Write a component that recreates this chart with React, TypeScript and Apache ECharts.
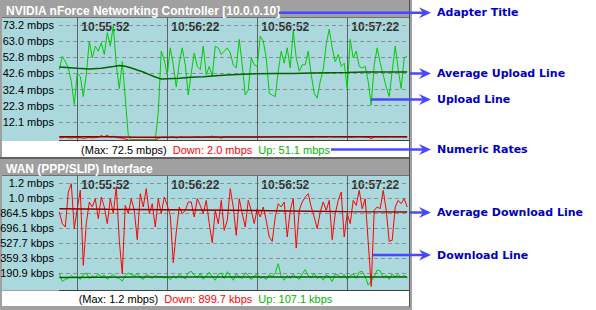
import React, { useEffect, useRef } from "react";
import * as echarts from "echarts";

// ---------- data ----------
const SAMPLE_START = -6; // seconds relative to 10:55:52, one sample per second
const TIME_TICKS = [0, 30, 60, 90];
const TIME_LABELS = ["10:55:52", "10:56:22", "10:56:52", "10:57:22"];

const TOP_TITLE = "NVIDIA nForce Networking Controller [10.0.0.10]";
const BOT_TITLE = "WAN (PPP/SLIP) Interface";

const TOP_TICKS = [12.1, 22.3, 32.4, 42.6, 52.8, 63.0, 73.2]; // mbps
const BOT_TICKS = [190.9, 359.3, 527.7, 696.1, 864.5, 1032.9, 1201.3]; // kbps

const TOP_STATS = ["72.5 mbps", "2.0 mbps", "51.1 mbps"];
const BOT_STATS = ["1.2 mbps", "899.7 kbps", "107.1 kbps"];

// upload (mbps), NVIDIA adapter
const topUpload = [
  45, 53.4, 50, 46, 37.5, 23,
  42.8, 40.7, 28, 41.8, 63, 52.4, 59.8, 56.6, 61.9, 54.5,
  68.3, 59.8, 72.5, 48, 33, 50, 27, 3.6, 0.8, 0.8,
  0.8, 0.8, 0.8, 0.8, 0.8, 0.8, 0.8, 18, 56.6, 51,
  41.8, 58.7, 48, 34, 49, 58.7, 48, 29, 42.8, 55.5,
  47, 45, 59.8, 41.8, 47, 40.7, 59.8, 58.7, 54.5, 56.6,
  58.7, 55.5, 48, 46, 64, 48, 29, 32, 52.4, 48,
  47, 66, 63, 52.4, 30, 29, 28, 44, 56.6, 49,
  58.7, 46, 69.3, 52.4, 44, 48, 48, 56.6, 41.8, 30,
  27, 37.5, 45, 61, 70.4, 58.7, 50, 54.5, 47, 49,
  33, 64, 52.4, 56.6, 47, 46, 47, 37.5, 22.7, 48,
  58.7, 49, 41.8, 34, 28, 44, 59.8, 45, 33, 52.4, 53.4,
];
// download (mbps), NVIDIA adapter
const topDownload = [
  2.1, 2.0, 2.6, 2.0, 1.9, 2.2,
  2.0, 2.1, 1.6, 2.0, 2.2, 2.0, 2.1, 2.4, 3.4, 2.6,
  3.6, 2.4, 3.0, 2.2, 2.0, 1.8, 1.2, 0.6, 0.5, 0.6,
  0.5, 0.6, 0.5, 0.6, 0.5, 0.6, 0.5, 1.8, 2.3, 2.5,
  2.2, 2.4, 2.6, 1.9, 2.4, 2.5, 2.3, 2.4, 2.2, 2.5,
  2.6, 2.4, 2.3, 2.6, 2.4, 3.1, 2.5, 2.4, 1.8, 2.6,
  2.5, 2.6, 2.7, 2.5, 2.6, 2.5, 2.6, 2.5, 2.4, 2.6,
  2.5, 2.6, 2.6, 2.5, 2.7, 2.6, 2.8, 2.6, 2.5, 2.6,
  2.6, 2.5, 2.7, 2.6, 2.6, 2.7, 2.5, 2.6, 2.4, 2.6,
  2.7, 2.6, 2.5, 2.6, 2.8, 2.6, 2.5, 2.7, 2.6, 2.5,
  2.6, 2.4, 2.5, 2.6, 2.7, 2.6, 2.5, 2.4, 1.5, 2.6,
  2.5, 2.6, 2.6, 2.5, 2.7, 2.6, 2.5, 2.6, 2.7, 2.5, 2.6,
];
// average upload (mbps): [second, value]
const topUploadAvgT = [-6, 0, 4, 8, 12, 14, 16, 18, 20, 22, 24, 26, 28, 30, 34, 38, 42, 46, 50, 55, 60, 66, 72, 78, 84, 90, 96, 102, 110];
const topUploadAvgV = [46.6, 45.8, 45.4, 45.8, 46.9, 47.5, 47.1, 46, 44.7, 43.5, 41.8, 40.3, 39, 39.2, 39.6, 40.1, 40.5, 41.1, 41.6, 42, 42.4, 42.6, 42.6, 42.8, 43, 43.2, 43.5, 43.5, 43.5];
// average download (mbps)
const topDownloadAvgT = [-6, 10, 20, 30, 50, 80, 110];
const topDownloadAvgV = [2.7, 2.7, 2.4, 2.3, 2.5, 2.6, 2.6];

// download (kbps), WAN interface
const botDownload = [
  876, 745, 707, 1100, 1194, 689,
  913, 1119, 277, 745, 988, 932, 1025, 801, 1044, 932,
  745, 1025, 857, 1156, 558, 183, 950, 857, 1025, 894,
  565, 1081, 932, 1138, 857, 969, 707, 1025, 857, 1044,
  950, 838, 307, 650, 932, 857, 894, 988, 988, 820,
  1025, 950, 857, 1006, 745, 531, 894, 745, 1006, 670,
  782, 1138, 932, 614, 1025, 857, 707, 1006, 894, 745,
  913, 820, 932, 782, 595, 546, 820, 969, 932, 988,
  595, 894, 1025, 471, 894, 988, 1044, 1081, 932, 820,
  689, 876, 988, 894, 1006, 565, 857, 1006, 1100, 595,
  857, 745, 1006, 950, 1119, 913, 1025, 539, 41, 894,
  932, 913, 1119, 894, 546, 558, 932, 1006, 969, 1025, 932,
];
// upload (kbps), WAN interface
const botUpload = [
  190, 95, 120, 130, 165, 140,
  150, 120, 175, 190, 130, 160, 140, 180, 150, 165,
  120, 150, 175, 140, 130, 100, 160, 190, 175, 160,
  185, 140, 120, 170, 155, 130, 165, 140, 150, 135,
  150, 115, 160, 130, 175, 150, 125, 195, 210, 165,
  140, 185, 120, 160, 200, 145, 110, 175, 190, 130,
  205, 160, 110, 180, 150, 130, 195, 165, 115, 160,
  175, 130, 145, 120, 170, 150, 190, 295, 150, 110,
  165, 130, 175, 145, 120, 180, 230, 160, 140, 190,
  130, 155, 110, 170, 150, 95, 180, 165, 135, 175,
  120, 160, 180, 130, 200, 210, 150, 55, 100, 150,
  225, 215, 140, 165, 120, 180, 150, 175, 140, 165, 130,
];
const botDownloadAvgT = [-6, 10, 30, 50, 70, 90, 110];
const botDownloadAvgV = [913, 906, 902, 896, 887, 880, 876];
const botUploadAvgT = [-6, 20, 50, 80, 110];
const botUploadAvgV = [140, 145, 146, 147, 147];

const ANNOTATIONS = [
  "Adapter Title",
  "Average Upload Line",
  "Upload Line",
  "Numeric Rates",
  "Average Download Line",
  "Download Line",
];

// ---------- layout / style ----------
const ANN_Y = [12.7, 73.5, 99.5, 149.5, 212.5, 255];
const ANN_FROM = [279, 410, 371, 331, 410, 373];
const CYAN = "#aad8dc";
const FONT = '"Liberation Sans", Arial, sans-serif';
const X_MIN = -6.1;
const X_MAX = 110.6;

const perSecond = (arr: number[]) => arr.map((v, i) => [i + SAMPLE_START, v]);
const zip = (t: number[], v: number[]) => t.map((x, i) => [x, v[i]]);

function lineSeries(name: string, grid: number, data: number[][], color: string, width: number, extra: any = {}) {
  return {
    name,
    type: "line",
    xAxisIndex: grid,
    yAxisIndex: grid,
    data,
    symbol: "none",
    showSymbol: false,
    silent: true,
    clip: true,
    lineStyle: { color, width },
    itemStyle: { color },
    emphasis: { disabled: true },
    ...extra,
  };
}

function gridLines(ticks: number[]) {
  return {
    silent: true,
    z: 1,
    symbol: ["none", "none"],
    label: { show: false },
    emphasis: { disabled: true },
    lineStyle: { color: "#8c9090", type: [4, 3], width: 1 },
    data: [
      ...ticks.map((v) => ({ yAxis: v })),
      ...TIME_TICKS.map((t) => ({ xAxis: t, lineStyle: { color: "#5c6464", type: "solid", width: 1 } })),
    ],
  };
}

function xAxisFor(i: number) {
  return {
    gridIndex: i,
    type: "value",
    min: X_MIN,
    max: X_MAX,
    position: "top",
    axisLine: { show: false },
    axisTick: { show: false },
    splitLine: { show: false },
    axisLabel: {
      show: true,
      inside: true,
      customValues: TIME_TICKS,
      formatter: (v: number) => TIME_LABELS[TIME_TICKS.indexOf(v)] ?? "",
      align: "left",
      verticalAlign: "top",
      margin: 3,
      padding: [0, 0, 0, 4],
      color: "#333",
      fontFamily: FONT,
      fontSize: 12,
      fontWeight: "bold",
    },
  };
}

function yAxisFor(i: number, max: number, ticks: number[], fmt: (v: number) => string) {
  return {
    gridIndex: i,
    type: "value",
    min: 0,
    max,
    axisLine: { show: true, lineStyle: { color: "#404040", width: 1 } },
    axisTick: { show: true, customValues: ticks, length: 4, lineStyle: { color: "#404040" } },
    axisLabel: { customValues: ticks, formatter: fmt, margin: 5, color: "#000", fontSize: 11, fontFamily: FONT },
    splitLine: { show: false },
  };
}

function statsText(s: string[]) {
  return `(Max: ${s[0]})  {r|Down: ${s[1]}}  {g|Up: ${s[2]}}`;
}

export default function App() {
  const ref = useRef<HTMLDivElement>(null);
  useEffect(() => {
    if (!ref.current) return;
    const chart = echarts.init(ref.current, null, { renderer: "svg" });

    const graphics: any[] = [
      // frame
      { type: "rect", shape: { x: 0, y: 0, width: 412, height: 310 }, style: { fill: "#a0a0a0" }, z: -20 },
      { type: "rect", shape: { x: 409, y: 0, width: 1, height: 307 }, style: { fill: "#505050" }, z: -19 },
      // top panel
      { type: "rect", shape: { x: 2, y: 18, width: 407, height: 123 }, style: { fill: CYAN }, z: -10 },
      { type: "rect", shape: { x: 2, y: 141, width: 407, height: 16 }, style: { fill: "#ffffff" }, z: -10 },
      { type: "rect", shape: { x: 0, y: 157, width: 409, height: 2 }, style: { fill: "#606060" }, z: -10 },
      { type: "rect", shape: { x: 59, y: 140, width: 350, height: 1 }, style: { fill: "#404040" }, z: 5 },
      { type: "rect", shape: { x: 2, y: 17, width: 407, height: 1 }, style: { fill: "#707070" }, z: -9 },
      // bottom panel
      { type: "rect", shape: { x: 2, y: 176, width: 407, height: 114 }, style: { fill: CYAN }, z: -10 },
      { type: "rect", shape: { x: 2, y: 291, width: 407, height: 15 }, style: { fill: "#ffffff" }, z: -10 },
      { type: "rect", shape: { x: 59, y: 290, width: 350, height: 1 }, style: { fill: "#404040" }, z: 5 },
      { type: "rect", shape: { x: 2, y: 175, width: 407, height: 1 }, style: { fill: "#707070" }, z: -9 },
      // titles
      { type: "text", x: 6, y: 11, z: 10, style: { text: TOP_TITLE, fill: "#ffffff", font: `bold 12px ${FONT}`, align: "left", verticalAlign: "middle" } },
      { type: "text", x: 6, y: 169, z: 10, style: { text: BOT_TITLE, fill: "#ffffff", font: `bold 12px ${FONT}`, align: "left", verticalAlign: "middle" } },
      // numeric rates
      ...[
        [TOP_STATS, 150],
        [BOT_STATS, 298.5],
      ].map(([s, y]: any) => ({
        type: "text",
        x: 205.5,
        y,
        z: 10,
        style: {
          text: statsText(s),
          fill: "#000",
          font: `11px ${FONT}`,
          align: "center",
          verticalAlign: "middle",
          rich: {
            r: { fill: "#ff0000", font: `11px ${FONT}` },
            g: { fill: "#00b400", font: `11px ${FONT}` },
          },
        },
      })),
    ];

    ANNOTATIONS.forEach((label, i) => {
      const y = ANN_Y[i];
      graphics.push(
        { type: "line", z: 100, shape: { x1: ANN_FROM[i], y1: y, x2: 424, y2: y }, style: { stroke: "#4848ff", lineWidth: 2.5 } },
        { type: "polygon", z: 100, shape: { points: [[431, y], [419, y - 5.5], [423, y], [419, y + 5.5]] }, style: { fill: "#4848ff" } },
        { type: "text", x: 437, y, z: 100, style: { text: label, fill: "#0000c0", font: 'bold 11px "DejaVu Sans", Verdana, sans-serif', align: "left", verticalAlign: "middle" } }
      );
    });

    const option: any = {
      animation: false,
      backgroundColor: "#ffffff",
      grid: [
        { left: 59, top: 18, width: 350, height: 123, outerBoundsMode: "none" },
        { left: 59, top: 176, width: 350, height: 114, outerBoundsMode: "none" },
      ],
      xAxis: [xAxisFor(0), xAxisFor(1)],
      yAxis: [
        yAxisFor(0, 77.5, TOP_TICKS, (v) => `${v.toFixed(1)} mbps`),
        yAxisFor(1, 1280, BOT_TICKS, (v) => (v >= 1000 ? `${(v / 1000).toFixed(1)} mbps` : `${v.toFixed(1)} kbps`)),
      ],
      graphic: { elements: graphics },
      series: [
        lineSeries("Upload", 0, perSecond(topUpload), "#00cc00", 1, { markLine: gridLines(TOP_TICKS) }),
        lineSeries("Download", 0, perSecond(topDownload), "#ff0000", 1),
        lineSeries("Avg Upload", 0, zip(topUploadAvgT, topUploadAvgV), "#006400", 1.5),
        lineSeries("Avg Download", 0, zip(topDownloadAvgT, topDownloadAvgV), "#900000", 1.5),
        lineSeries("Upload", 1, perSecond(botUpload), "#00cc00", 1, { markLine: gridLines(BOT_TICKS) }),
        lineSeries("Download", 1, perSecond(botDownload), "#ff0000", 1),
        lineSeries("Avg Upload", 1, zip(botUploadAvgT, botUploadAvgV), "#006400", 1.5),
        lineSeries("Avg Download", 1, zip(botDownloadAvgT, botDownloadAvgV), "#900000", 1.5),
      ],
    };
    chart.setOption(option);
    return () => chart.dispose();
  }, []);
  return <div ref={ref} style={{ position: "fixed", left: 0, top: 0, width: 596, height: 310, background: "#fff" }} />;
}
